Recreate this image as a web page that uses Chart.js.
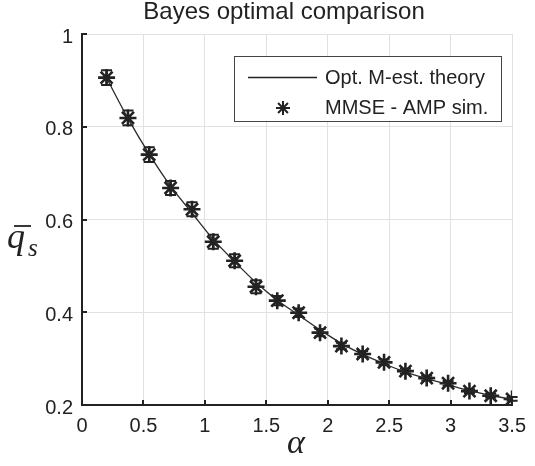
<!DOCTYPE html>
<html>
<head>
<meta charset="utf-8">
<script src="https://cdn.jsdelivr.net/npm/chart.js@4/dist/chart.umd.min.js"></script>
<style>
  html, body { margin: 0; padding: 0; background: #fff; }
  #wrap { width: 535px; height: 466px; position: relative; }
</style>
</head>
<body>
<div id="wrap"><canvas id="mainChart"></canvas></div>
<script>
// values
const alphas = [0.2, 0.374, 0.547, 0.721, 0.895, 1.068, 1.242, 1.416, 1.589, 1.763,
                1.937, 2.111, 2.284, 2.458, 2.632, 2.805, 2.979, 3.153, 3.326, 3.5];
const theory = [0.905, 0.818, 0.741, 0.672, 0.614, 0.557, 0.509, 0.464, 0.426, 0.394,
                0.362, 0.333, 0.309, 0.289, 0.271, 0.257, 0.244, 0.231, 0.221, 0.212];
const ampSim = [0.906, 0.819, 0.740, 0.668, 0.622, 0.552, 0.511, 0.455, 0.425, 0.399,
                0.356, 0.327, 0.310, 0.292, 0.273, 0.258, 0.247, 0.230, 0.220, 0.213];
const ampErr = [0.016, 0.016, 0.016, 0.015, 0.015, 0.015, 0.014, 0.014, 0.010, 0.009,
                0.008, 0.007, 0.006, 0.006, 0.005, 0.005, 0.005, 0.004, 0.004, 0.004];
const xTicks = [0, 0.5, 1, 1.5, 2, 2.5, 3, 3.5];
const yTicks = [0.2, 0.4, 0.6, 0.8, 1];

const FONT = '"Liberation Sans", Arial, Helvetica, sans-serif';
const SERIF = '"Liberation Serif", "DejaVu Serif", serif';
const INK = '#222';

function drawStar(ctx, x, y, r) {
    const d = r * 0.7071;
    ctx.beginPath();
    ctx.moveTo(x - r, y); ctx.lineTo(x + r, y);
    ctx.moveTo(x, y - r); ctx.lineTo(x, y + r);
    ctx.moveTo(x - d, y - d); ctx.lineTo(x + d, y + d);
    ctx.moveTo(x - d, y + d); ctx.lineTo(x + d, y - d);
    ctx.stroke();
}

const extras = {
    id: 'extras',
    afterDatasetsDraw(chart) {
        const ctx = chart.ctx;
        const xs = chart.scales.x, ys = chart.scales.y;
        ctx.save();
        ctx.strokeStyle = INK;
        ctx.lineWidth = 2;
        alphas.forEach((a, i) => {
            const px = xs.getPixelForValue(a);
            const top = ys.getPixelForValue(ampSim[i] + ampErr[i]);
            const bot = ys.getPixelForValue(ampSim[i] - ampErr[i]);
            ctx.beginPath();
            ctx.moveTo(px, top); ctx.lineTo(px, bot);
            ctx.moveTo(px - 5.5, top); ctx.lineTo(px + 5.5, top);
            ctx.moveTo(px - 5.5, bot); ctx.lineTo(px + 5.5, bot);
            ctx.stroke();
        });
        ctx.restore();
    },
    afterDraw(chart) {
        const ctx = chart.ctx;
        const xs = chart.scales.x, ys = chart.scales.y;
        const area = chart.chartArea;
        ctx.save();
        // inward ticks
        ctx.strokeStyle = INK;
        ctx.lineWidth = 2;
        ctx.beginPath();
        xTicks.forEach(v => {
            const px = Math.round(xs.getPixelForValue(v));
            ctx.moveTo(px, area.bottom); ctx.lineTo(px, area.bottom - 5);
        });
        yTicks.forEach(v => {
            const py = Math.round(ys.getPixelForValue(v));
            ctx.moveTo(area.left, py); ctx.lineTo(area.left + 5, py);
        });
        ctx.stroke();

        // title
        ctx.fillStyle = INK;
        ctx.font = '24px ' + FONT;
        ctx.textAlign = 'center';
        ctx.textBaseline = 'alphabetic';
        ctx.fillText('Bayes optimal comparison', 284, 19);

        // x label
        ctx.font = 'italic 34px ' + SERIF;
        ctx.fillText('α', 296, 453);

        // y label: q bar, subscript s
        ctx.textAlign = 'left';
        ctx.font = 'italic 36px ' + SERIF;
        ctx.fillText('q', 7, 248);
        ctx.font = 'italic 25px ' + SERIF;
        ctx.fillText('s', 28, 256);
        ctx.lineWidth = 1.8;
        ctx.beginPath();
        ctx.moveTo(14, 226); ctx.lineTo(31, 226);
        ctx.stroke();

        // legend box
        ctx.fillStyle = '#fff';
        ctx.fillRect(234, 56, 267, 65);
        ctx.strokeStyle = '#444';
        ctx.lineWidth = 1;
        ctx.strokeRect(234.5, 56.5, 267, 65);
        ctx.strokeStyle = INK;
        ctx.lineWidth = 1.6;
        ctx.beginPath();
        ctx.moveTo(248, 77.5); ctx.lineTo(317, 77.5);
        ctx.stroke();
        ctx.lineWidth = 2;
        drawStar(ctx, 283, 108, 7);
        ctx.fillStyle = INK;
        ctx.font = '20px ' + FONT;
        ctx.textBaseline = 'middle';
        ctx.fillText('Opt. M-est. theory', 325, 78);
        ctx.fillText('MMSE - AMP sim.', 325, 108);
        ctx.restore();
    }
};

new Chart(document.getElementById('mainChart'), {
    type: 'scatter',
    data: {
        datasets: [
            {
                label: 'Opt. M-est. theory',
                data: alphas.map((a, i) => ({ x: a, y: theory[i] })),
                showLine: true,
                borderColor: '#2a2a2a',
                borderWidth: 1.3,
                pointRadius: 0,
                tension: 0.3
            },
            {
                label: 'MMSE - AMP sim.',
                data: alphas.map((a, i) => ({ x: a, y: ampSim[i] })),
                showLine: false,
                pointStyle: 'star',
                pointRadius: 8.5,
                pointBorderWidth: 2.6,
                pointBorderColor: INK,
                pointBackgroundColor: INK
            }
        ]
    },
    options: {
        responsive: true,
        maintainAspectRatio: false,
        animation: false,
        layout: { padding: { top: 34, right: 12, left: 0, bottom: 0 } },
        plugins: {
            legend: { display: false },
            title: { display: false },
            tooltip: { enabled: false }
        },
        scales: {
            x: {
                type: 'linear',
                min: 0,
                max: 3.5,
                afterFit: s => { s.height = 61; },
                afterBuildTicks: s => { s.ticks = xTicks.map(v => ({ value: v })); },
                grid: { color: '#e2e2e2', lineWidth: 1, drawTicks: false },
                border: { display: true, color: INK, width: 2 },
                ticks: {
                    color: INK,
                    font: { family: FONT, size: 20 },
                    padding: 9,
                    maxRotation: 0,
                    callback: v => String(v)
                }
            },
            y: {
                type: 'linear',
                min: 0.2,
                max: 1,
                afterFit: s => { s.width = 82; },
                afterBuildTicks: s => { s.ticks = yTicks.map(v => ({ value: v })); },
                grid: { color: '#e2e2e2', lineWidth: 1, drawTicks: false },
                border: { display: true, color: INK, width: 2 },
                ticks: {
                    color: INK,
                    font: { family: FONT, size: 20 },
                    padding: 9,
                    labelOffset: 3,
                    callback: v => String(Math.round(v * 10) / 10)
                }
            }
        }
    },
    plugins: [extras]
});
</script>
</body>
</html>
